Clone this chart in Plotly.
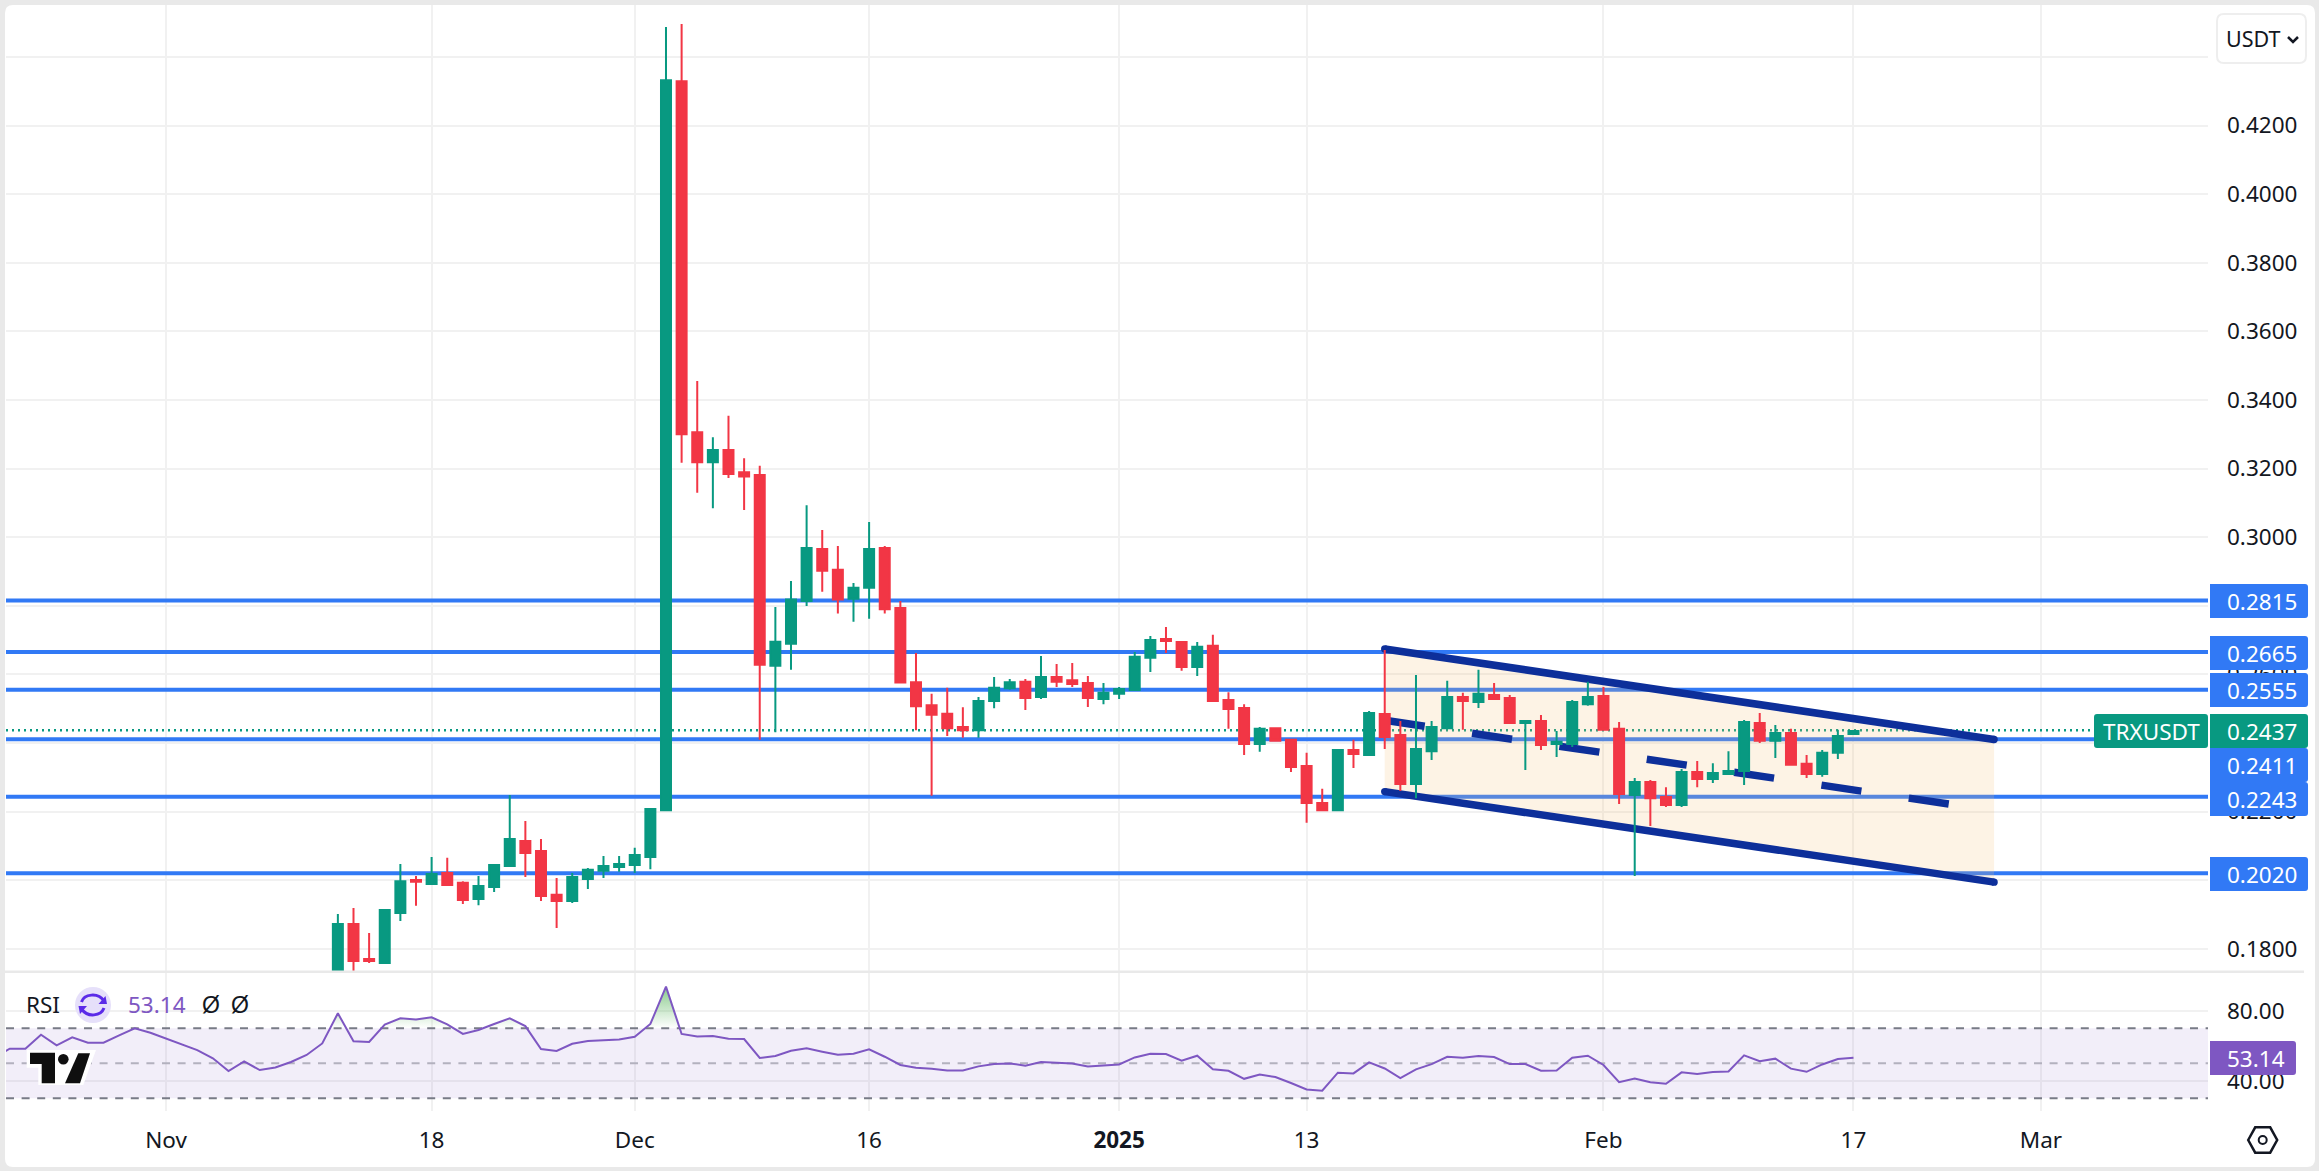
import numpy as np
import pandas as pd
import plotly.graph_objects as go

W, H = 2319, 1171
FONT = "Noto Sans"
GREEN = "#089981"
RED = "#F23645"
BLUE = "#3179F5"
NAVY = "#0D2F9A"
PURPLE = "#7E57C2"
TEXT = "#131722"
GRID = "#F1F1F1"

################################# Data

opens = [
    0.1690, 0.1872, 0.1770, 0.1758, 0.1904, 0.2000, 0.1989, 0.2021, 0.1992, 0.1945,
    0.1980, 0.2041, 0.2114, 0.2085, 0.1957, 0.1939, 0.2003, 0.2027, 0.2038, 0.2044,
    0.2067, 0.2204, 0.4329, 0.3306, 0.3218, 0.3254, 0.3189, 0.3181, 0.2625, 0.2689,
    0.2814, 0.2965, 0.2905, 0.2820, 0.2852, 0.2968, 0.2793, 0.2577, 0.2510, 0.2485,
    0.2446, 0.2437, 0.2522, 0.2559, 0.2578, 0.2534, 0.2592, 0.2583, 0.2575, 0.2528,
    0.2543, 0.2554, 0.2648, 0.2703, 0.2694, 0.2621, 0.2683, 0.2525, 0.2502, 0.2397,
    0.2443, 0.2409, 0.2333, 0.2225, 0.2204, 0.2379, 0.2365, 0.2484, 0.2423, 0.2280,
    0.2376, 0.2443, 0.2534, 0.2519, 0.2540, 0.2531, 0.2458, 0.2464, 0.2397, 0.2397,
    0.2513, 0.2537, 0.2441, 0.2248, 0.2286, 0.2242, 0.2219, 0.2315, 0.2295, 0.2309,
    0.2318, 0.2458, 0.2406, 0.2429, 0.2339, 0.2309, 0.2371, 0.2426,
]
highs = [
    0.1901, 0.1919, 0.1846, 0.1913, 0.2047, 0.2012, 0.2067, 0.2065, 0.1997, 0.2012,
    0.2047, 0.2248, 0.2172, 0.2120, 0.2006, 0.2021, 0.2035, 0.2070, 0.2070, 0.2094,
    0.2207, 0.4487, 0.4496, 0.3455, 0.3291, 0.3354, 0.3230, 0.3208, 0.2796, 0.2872,
    0.3093, 0.3021, 0.2974, 0.2866, 0.3044, 0.2974, 0.2814, 0.2662, 0.2543, 0.2561,
    0.2504, 0.2534, 0.2592, 0.2586, 0.2586, 0.2653, 0.2630, 0.2633, 0.2595, 0.2575,
    0.2563, 0.2665, 0.2712, 0.2738, 0.2694, 0.2694, 0.2715, 0.2548, 0.2513, 0.2446,
    0.2443, 0.2409, 0.2371, 0.2266, 0.2382, 0.2409, 0.2493, 0.2671, 0.2464, 0.2598,
    0.2464, 0.2581, 0.2546, 0.2613, 0.2575, 0.2540, 0.2467, 0.2481, 0.2435, 0.2525,
    0.2578, 0.2563, 0.2461, 0.2298, 0.2292, 0.2271, 0.2324, 0.2347, 0.2341, 0.2376,
    0.2467, 0.2487, 0.2452, 0.2441, 0.2365, 0.2379, 0.2438, 0.2437,
]
lows = [
    0.1670, 0.1715, 0.1758, 0.1758, 0.1881, 0.1925, 0.1989, 0.1983, 0.1930, 0.1927,
    0.1965, 0.2041, 0.2009, 0.1939, 0.1860, 0.1933, 0.1974, 0.2006, 0.2024, 0.2021,
    0.2032, 0.2204, 0.3217, 0.3129, 0.3084, 0.3172, 0.3079, 0.2409, 0.2431, 0.2613,
    0.2799, 0.2841, 0.2777, 0.2753, 0.2762, 0.2777, 0.2576, 0.2437, 0.2246, 0.2420,
    0.2415, 0.2415, 0.2501, 0.2555, 0.2496, 0.2528, 0.2563, 0.2563, 0.2505, 0.2513,
    0.2528, 0.2554, 0.2607, 0.2662, 0.2610, 0.2595, 0.2522, 0.2441, 0.2365, 0.2374,
    0.2406, 0.2315, 0.2167, 0.2202, 0.2204, 0.2327, 0.2365, 0.2382, 0.2260, 0.2239,
    0.2350, 0.2443, 0.2438, 0.2502, 0.2528, 0.2458, 0.2321, 0.2379, 0.2359, 0.2388,
    0.2508, 0.2438, 0.2222, 0.2012, 0.2158, 0.2213, 0.2213, 0.2271, 0.2283, 0.2309,
    0.2277, 0.2400, 0.2356, 0.2336, 0.2298, 0.2301, 0.2353, 0.2426,
]
closes = [
    0.1872, 0.1764, 0.1764, 0.1913, 0.1997, 0.1995, 0.2018, 0.1986, 0.1942, 0.1983,
    0.2044, 0.2120, 0.2079, 0.1954, 0.1939, 0.2009, 0.2030, 0.2041, 0.2047, 0.2073,
    0.2207, 0.4332, 0.3300, 0.3218, 0.3254, 0.3184, 0.3177, 0.2628, 0.2695, 0.2818,
    0.2968, 0.2902, 0.2818, 0.2852, 0.2965, 0.2790, 0.2576, 0.2507, 0.2482, 0.2443,
    0.2437, 0.2522, 0.2561, 0.2577, 0.2531, 0.2592, 0.2578, 0.2572, 0.2531, 0.2546,
    0.2557, 0.2651, 0.2700, 0.2697, 0.2621, 0.2680, 0.2522, 0.2499, 0.2397, 0.2441,
    0.2406, 0.2330, 0.2225, 0.2204, 0.2379, 0.2368, 0.2487, 0.2417, 0.2280, 0.2382,
    0.2446, 0.2534, 0.2522, 0.2543, 0.2528, 0.2458, 0.2464, 0.2394, 0.2403, 0.2519,
    0.2534, 0.2438, 0.2251, 0.2286, 0.2239, 0.2219, 0.2315, 0.2295, 0.2312, 0.2318,
    0.2461, 0.2406, 0.2429, 0.2336, 0.2309, 0.2371, 0.2420, 0.2435,
]

rsi_values = [
    53.3, 58.3, 58.3, 66.3, 60.2, 64.8, 61.7, 61.7, 65.9, 69.9,
    67.4, 64.2, 60.8, 57.5, 52.8, 45.5, 51.0, 46.1, 47.6, 50.7,
    54.7, 61.3, 78.5, 62.5, 62.1, 72.0, 75.6, 75.0, 76.2, 72.2,
    66.7, 69.0, 72.4, 75.6, 71.2, 58.1, 57.0, 61.1, 62.7, 63.2,
    63.6, 65.1, 72.4, 93.7, 66.7, 65.3, 65.5, 64.0, 63.8, 53.0,
    54.1, 57.1, 58.5, 56.6, 54.9, 55.4, 57.9, 53.7, 49.0, 47.4,
    46.9, 45.9, 45.9, 48.2, 49.5, 49.9, 48.6, 50.7, 50.1, 49.9,
    48.2, 48.8, 49.3, 53.3, 55.4, 55.2, 51.4, 54.3, 46.5, 45.7,
    41.1, 43.6, 42.1, 38.7, 35.0, 34.3, 44.6, 44.2, 50.5, 47.0,
    41.5, 46.5, 49.5, 53.7, 53.1, 54.1, 53.5, 49.5, 49.5, 45.7,
    45.9, 53.1, 54.3, 49.0, 39.2, 41.3, 39.2, 38.3, 44.8, 43.8,
    45.0, 45.3, 54.5, 51.2, 52.6, 46.9, 45.1, 49.3, 52.4, 53.14,
]

level_values = [0.2815, 0.2665, 0.2555, 0.2411, 0.2243, 0.2020]
level_labels = ["0.2815", "0.2665", "0.2555", "0.2411", "0.2243", "0.2020"]
last_price = 0.2437

channel_dates = ["2025-01-18", "2025-02-26"]
channel_top = [0.2674, 0.2410]
channel_bottom = [0.2258, 0.1994]

price_ticks = [0.44, 0.42, 0.40, 0.38, 0.36, 0.34, 0.32, 0.30, 0.28, 0.26, 0.24, 0.22, 0.20, 0.18]
# the 0.44 label sits under the currency button in the reference
price_tick_labels = ["", "0.4200", "0.4000", "0.3800", "0.3600", "0.3400", "0.3200", "0.3000",
                     "0.2800", "0.2600", "0.2400", "0.2200", "0.2000", "0.1800"]
rsi_ticks = [80, 40]
time_tick_dates = ["2024-11-01", "2024-11-18", "2024-12-01", "2024-12-16", "2025-01-01",
                   "2025-01-13", "2025-02-01", "2025-02-17", "2025-03-01"]
time_tick_labels = ["Nov", "18", "Dec", "16", "<b>2025</b>", "13", "Feb", "17", "Mar"]

candle_dates = pd.date_range("2024-11-12", periods=len(opens))
rsi_dates = pd.date_range(end="2025-02-17", periods=len(rsi_values))

X_RANGE = ["2024-10-21 18:14", "2025-03-11 16:34"]


################################# Pixel helpers for the page furniture
def px(x):
    return x / W


def py(y):
    return 1 - y / H


def poly(points, close=True):
    path = "M " + " L ".join(f"{px(x):.5f},{py(y):.5f}" for x, y in points)
    return path + (" Z" if close else "")


def tag_path(x0, y0, x1, y1, r=3):
    """Box whose right side has rounded corners, the way price labels look."""
    return (
        f"M {px(x0):.5f},{py(y0):.5f} L {px(x1 - r):.5f},{py(y0):.5f} "
        f"Q {px(x1):.5f},{py(y0):.5f} {px(x1):.5f},{py(y0 + r):.5f} "
        f"L {px(x1):.5f},{py(y1 - r):.5f} "
        f"Q {px(x1):.5f},{py(y1):.5f} {px(x1 - r):.5f},{py(y1):.5f} "
        f"L {px(x0):.5f},{py(y1):.5f} Z"
    )


def round_rect(x0, y0, x1, y1, r):
    return (
        f"M {px(x0 + r):.5f},{py(y0):.5f} L {px(x1 - r):.5f},{py(y0):.5f} "
        f"Q {px(x1):.5f},{py(y0):.5f} {px(x1):.5f},{py(y0 + r):.5f} "
        f"L {px(x1):.5f},{py(y1 - r):.5f} "
        f"Q {px(x1):.5f},{py(y1):.5f} {px(x1 - r):.5f},{py(y1):.5f} "
        f"L {px(x0 + r):.5f},{py(y1):.5f} "
        f"Q {px(x0):.5f},{py(y1):.5f} {px(x0):.5f},{py(y1 - r):.5f} "
        f"L {px(x0):.5f},{py(y0 + r):.5f} "
        f"Q {px(x0):.5f},{py(y0):.5f} {px(x0 + r):.5f},{py(y0):.5f} Z"
    )


def paper_shape(path, fill=None, line=None, width=0, layer="above"):
    return dict(
        type="path", xref="paper", yref="paper", path=path, layer=layer,
        fillcolor=fill if fill else "rgba(0,0,0,0)",
        line=dict(color=line if line else "rgba(0,0,0,0)", width=width),
    )


################################# Chart marks under the candles
shapes = [paper_shape(round_rect(5, 5, 2315, 1167, 8), fill="white", layer="below")]

for lvl in level_values:
    shapes.append(dict(type="line", xref="x", yref="y", x0=X_RANGE[0], x1=X_RANGE[1], y0=lvl, y1=lvl,
                       layer="between", line=dict(color=BLUE, width=4)))
shapes.append(dict(type="line", xref="x", yref="y", x0=X_RANGE[0], x1=X_RANGE[1], y0=last_price, y1=last_price,
                   layer="between", line=dict(color=GREEN, width=2.5, dash="2px,4px")))

# channel: band first, then the three navy lines
shapes.append(dict(
    type="path", xref="x", yref="y", layer="between",
    path=(f"M {channel_dates[0]},{channel_top[0]} L {channel_dates[1]},{channel_top[1]} "
          f"L {channel_dates[1]},{channel_bottom[1]} L {channel_dates[0]},{channel_bottom[0]} Z"),
    fillcolor="rgba(245,195,125,0.2)", line=dict(width=0),
))
for edge in (channel_top, channel_bottom):
    shapes.append(dict(type="line", xref="x", yref="y", layer="between",
                       x0=channel_dates[0], x1=channel_dates[1], y0=edge[0], y1=edge[1],
                       line=dict(color=NAVY, width=7.5)))
    for i in (0, 1):
        shapes.append(dict(type="circle", xref="x", yref="y", layer="between",
                           xsizemode="pixel", ysizemode="pixel",
                           xanchor=channel_dates[i], yanchor=edge[i],
                           x0=-3.7, x1=3.7, y0=-3.7, y1=3.7,
                           fillcolor=NAVY, line=dict(width=0)))
shapes.append(dict(type="line", xref="x", yref="y", layer="between",
                   x0=channel_dates[0], x1=channel_dates[1],
                   y0=(channel_top[0] + channel_bottom[0]) / 2,
                   y1=(channel_top[1] + channel_bottom[1]) / 2,
                   line=dict(color=NAVY, width=7.5, dash="40.4px,47.9px")))

# rsi band and its dashed levels
shapes.append(dict(type="rect", xref="x2", yref="y2", layer="between",
                   x0=X_RANGE[0], x1=X_RANGE[1], y0=30, y1=70,
                   fillcolor="rgba(126,87,194,0.1)", line=dict(width=0)))
for val, col in ((70, "#787B86"), (50, "#B3B1BE"), (30, "#787B86")):
    shapes.append(dict(type="line", xref="x2", yref="y2", layer="between",
                       x0=X_RANGE[0], x1=X_RANGE[1], y0=val, y1=val,
                       line=dict(color=col, width=2, dash="8px,7.6px")))

# pane separator
shapes.append(paper_shape(poly([(5, 971.7), (2304, 971.7)], close=False), line="#E9E9E9", width=2.5))

################################# Price tags, logo, icons
annotations = []


def add_text(x, y, text, color=TEXT, size=22.5, xanchor="left", family=FONT):
    annotations.append(dict(xref="paper", yref="paper", x=px(x), y=py(y), text=text, showarrow=False,
                            xanchor=xanchor, yanchor="middle", align="left", borderpad=0,
                            font=dict(family=family, size=size, color=color)))


tag_centers = [601, 653, 690, 765, 799, 874]
for center, label in zip(tag_centers, level_labels):
    shapes.append(paper_shape(tag_path(2210, center - 17, 2308, center + 17), fill=BLUE))
    add_text(2226, center, label, color="white")

shapes.append(paper_shape(tag_path(2210, 714, 2308, 748), fill=GREEN))
add_text(2226, 731, f"{last_price:.4f}", color="white")
shapes.append(paper_shape(round_rect(2094, 714, 2208, 748, 3), fill=GREEN))
add_text(2151, 731, "TRXUSDT", color="white", xanchor="center")

shapes.append(paper_shape(tag_path(2210, 1041, 2296, 1075), fill=PURPLE))
add_text(2226, 1058, f"{rsi_values[-1]:.2f}", color="white")

# USDT selector
shapes.append(paper_shape(round_rect(2217, 14, 2306, 63, 7), fill="white", line="#EEEEEE", width=2))
add_text(2225, 38.5, "USDT", size=21.5)
shapes.append(paper_shape(poly([(2288, 37), (2293, 42), (2298, 37)], close=False), line=TEXT, width=2.5))

# RSI legend
add_text(25, 1004, "RSI")
add_text(127, 1004, f"{rsi_values[-1]:.2f}", color=PURPLE)
add_text(211, 1005, "Ø", size=23, xanchor="center", family="Liberation Sans")
add_text(240, 1005, "Ø", size=23, xanchor="center", family="Liberation Sans")
shapes.append(dict(type="circle", xref="paper", yref="paper", x0=px(75), x1=px(111),
                   y0=py(1023), y1=py(987), fillcolor="#E6E0FA", line=dict(width=0)))
ICON = "#5B2BE8"
shapes.append(dict(type="path", xref="paper", yref="paper",
                   path=(f"M {px(81.5):.5f},{py(1002):.5f} C {px(84):.5f},{py(994):.5f} "
                         f"{px(98):.5f},{py(992):.5f} {px(104):.5f},{py(1001):.5f}"),
                   line=dict(color=ICON, width=3)))
shapes.append(dict(type="path", xref="paper", yref="paper",
                   path=(f"M {px(104):.5f},{py(1008):.5f} C {px(101):.5f},{py(1016):.5f} "
                         f"{px(88):.5f},{py(1018):.5f} {px(81.5):.5f},{py(1009):.5f}"),
                   line=dict(color=ICON, width=3)))
shapes.append(paper_shape(poly([(98.5, 1004), (107, 1004), (105.5, 996)]), fill=ICON))
shapes.append(paper_shape(poly([(87, 1006), (78.5, 1006), (80, 1014)]), fill=ICON))

# logo with its white halo
shapes.append(paper_shape(poly([(26.7, 1050), (96, 1050), (83.3, 1085), (38.3, 1085), (38.3, 1067.7), (26.7, 1067.7)]),
                          fill="white"))
shapes.append(paper_shape(poly([(30, 1052.7), (55, 1052.7), (55, 1083.3), (41.7, 1083.3), (41.7, 1064), (30, 1064)]),
                          fill="#0F0F0F"))
shapes.append(paper_shape(poly([(78.3, 1053.3), (90, 1053.3), (80, 1083.3), (65, 1083.3)]), fill="#0F0F0F"))
shapes.append(dict(type="circle", xref="paper", yref="paper", x0=px(58), x1=px(68.6),
                   y0=py(1064.6), y1=py(1054), fillcolor="#0F0F0F", line=dict(width=0)))

# settings hexagon
cx, cy = 2262.7, 1140
shapes.append(paper_shape(poly([(cx - 14.5, cy), (cx - 7.5, cy - 12.7), (cx + 7.5, cy - 12.7),
                                (cx + 14.5, cy), (cx + 7.5, cy + 12.7), (cx - 7.5, cy + 12.7)]),
                          line=TEXT, width=2.5))
shapes.append(dict(type="circle", xref="paper", yref="paper", x0=px(cx - 4), x1=px(cx + 4),
                   y0=py(cy + 4), y1=py(cy - 4), line=dict(color=TEXT, width=2)))

################################# RSI part above 70, with the crossing points put in
over_x, over_y = [], []
for i, val in enumerate(rsi_values):
    if i > 0 and (rsi_values[i - 1] - 70) * (val - 70) < 0:
        frac = (70 - rsi_values[i - 1]) / (val - rsi_values[i - 1])
        over_x.append(rsi_dates[i - 1] + (rsi_dates[i] - rsi_dates[i - 1]) * frac)
        over_y.append(70)
    over_x.append(rsi_dates[i])
    over_y.append(max(val, 70))

################################# Figure
fig = go.Figure()

fig.add_trace(go.Candlestick(
    x=candle_dates, open=opens, high=highs, low=lows, close=closes,
    xaxis="x", yaxis="y", whiskerwidth=0,
    increasing=dict(line=dict(color=GREEN, width=2), fillcolor=GREEN),
    decreasing=dict(line=dict(color=RED, width=2), fillcolor=RED),
    showlegend=False,
))
fig.add_trace(go.Scatter(x=over_x, y=[70] * len(over_x), xaxis="x2", yaxis="y2", mode="lines",
                         line=dict(width=0), hoverinfo="skip", showlegend=False))
fig.add_trace(go.Scatter(x=over_x, y=over_y, xaxis="x2", yaxis="y2", mode="lines", line=dict(width=0),
                         fill="tonexty",
                         fillgradient=dict(type="vertical", start=70, stop=95,
                                           colorscale=[[0, "rgba(76,175,80,0)"], [1, "rgba(76,175,80,0.7)"]]),
                         hoverinfo="skip", showlegend=False))
fig.add_trace(go.Scatter(x=rsi_dates, y=rsi_values, xaxis="x2", yaxis="y2", mode="lines",
                         line=dict(color=PURPLE, width=2), showlegend=False))

time_axis = dict(
    type="date", range=X_RANGE, domain=[px(6), px(2208)],
    tickmode="array", tickvals=time_tick_dates, ticktext=time_tick_labels,
    showgrid=True, gridcolor=GRID, gridwidth=2, zeroline=False, showline=False, ticks="",
)

fig.update_layout(
    width=W, height=H, margin=dict(l=0, r=0, t=0, b=0),
    paper_bgcolor="#E9E9E9", plot_bgcolor="rgba(0,0,0,0)",
    font=dict(family=FONT, size=22.5, color=TEXT),
    boxgap=0.36, boxgroupgap=0, showlegend=False, shapes=shapes, annotations=annotations,
    xaxis=dict(time_axis, anchor="y", showticklabels=False, rangeslider=dict(visible=False)),
    xaxis2=dict(time_axis, anchor="y2", matches="x", showticklabels=True, ticklabelstandoff=14),
    yaxis=dict(domain=[py(971), py(5)], range=[0.1735, 0.45513], side="right", anchor="x",
               tickmode="array", tickvals=price_ticks, ticktext=price_tick_labels,
               showgrid=True, gridcolor=GRID, gridwidth=2, zeroline=False, showline=False,
               ticks="", ticklabelstandoff=18),
    yaxis2=dict(domain=[py(1110.7), py(973)], range=[22.9, 101.5], side="right", anchor="x2",
                tickmode="array", tickvals=rsi_ticks, ticktext=[f"{t:.2f}" for t in rsi_ticks],
                showgrid=True, gridcolor=GRID, gridwidth=2, zeroline=False, showline=False,
                ticks="", ticklabelstandoff=18),
)

fig.write_html("out.html", config=dict(displayModeBar=False),
               post_script="document.body.style.margin='0';document.body.style.overflow='hidden';")
